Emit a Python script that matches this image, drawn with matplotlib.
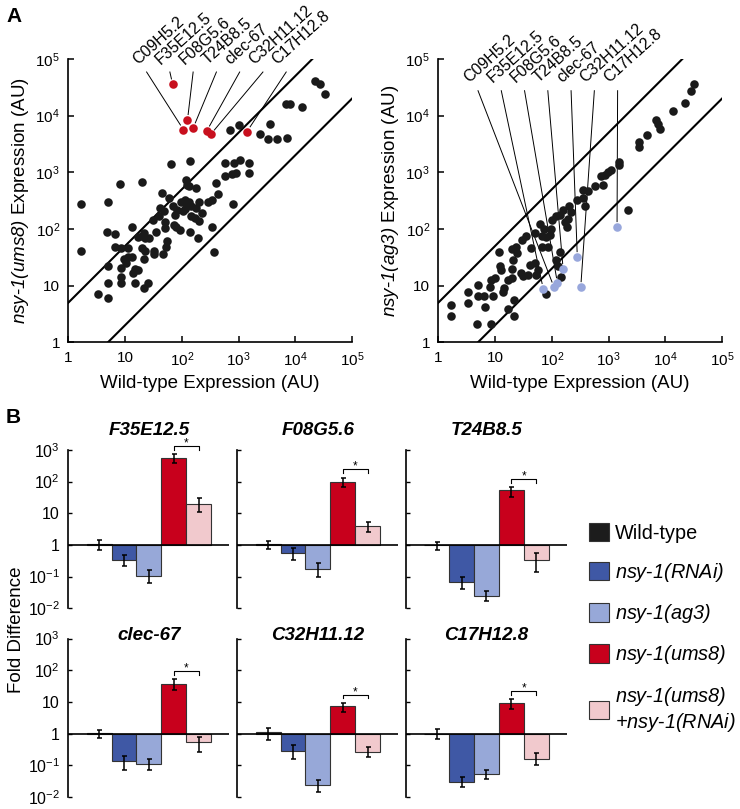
import numpy as np
import matplotlib
matplotlib.use('Agg')
import matplotlib.pyplot as plt
from matplotlib.patches import Patch

plt.rcParams['font.family'] = ['Liberation Sans', 'DejaVu Sans']
plt.rcParams['mathtext.fontset'] = 'custom'
plt.rcParams['mathtext.rm'] = 'Liberation Sans'
plt.rcParams['mathtext.sf'] = 'Liberation Sans:italic'
plt.rcParams['mathtext.bf'] = 'Liberation Sans:bold'

# ---------------- panel A data (log10 expression, AU) ----------------
genes = ['C09H5.2', 'F35E12.5', 'F08G5.6', 'T24B8.5', 'clec-67', 'C32H11.12', 'C17H12.8']

# nsy-1(ums8) vs wild-type, black points
ums8_wt = [0.22, 0.22, 0.70, 0.91, 1.30, 1.81, 2.14,
           0.69, 0.83, 0.82, 0.92, 1.06, 1.12,
           0.70, 0.92, 0.92, 0.70, 0.52, 0.70, 0.92,
           0.98, 1.05, 1.12, 1.02, 1.17, 1.22, 1.14, 1.18, 1.34, 1.40,
           1.34, 1.30, 1.35, 1.51, 1.51, 1.67, 1.73, 1.74,
           1.22, 1.30, 1.35, 1.43, 1.33, 1.55, 1.49, 1.59, 1.61, 1.65,
           1.70, 1.70, 1.69, 1.78, 1.84, 1.86, 1.88, 1.92, 1.96, 1.90,
           1.99, 2.05, 2.13, 2.09, 2.16, 2.07, 2.09, 2.13, 2.25,
           2.15, 2.06, 2.03, 2.25, 2.31, 2.17, 2.23, 2.31, 2.36, 2.28,
           2.46, 2.53, 2.64, 2.60, 2.53, 2.57, 2.91,
           2.76, 2.92, 3.02, 3.19, 2.76, 2.88, 2.95, 3.19,
           2.85, 3.00, 3.37, 3.55, 3.52, 3.67, 3.86, 3.83, 3.90, 4.12, 4.34, 4.44, 4.52]
ums8_mut = [2.44, 1.61, 2.47, 2.80, 2.83, 3.14, 3.20,
            1.94, 1.91, 1.69, 1.67, 1.67, 2.04,
            1.34, 1.31, 1.16, 1.04, 0.85, 0.79, 1.04,
            1.47, 1.51, 1.51, 1.40, 1.30, 1.28, 1.22, 1.04, 0.95, 1.04,
            1.47, 1.66, 1.61, 1.61, 1.55, 1.55, 1.69, 1.78,
            1.85, 1.88, 1.84, 1.84, 1.93, 1.95, 2.15, 2.22, 2.37, 2.64,
            2.13, 2.01, 2.31, 2.54, 2.40, 2.07, 2.25, 2.34, 1.98, 2.04,
            2.48, 2.51, 2.48, 2.40, 2.40, 2.87, 2.78, 2.76, 2.72,
            1.95, 2.35, 2.31, 2.37, 2.47, 2.22, 2.19, 2.14, 2.29, 1.84,
            2.47, 2.51, 2.61, 2.81, 2.03, 1.60, 2.44,
            3.16, 3.16, 3.22, 3.16, 2.93, 2.97, 2.99, 2.99,
            3.74, 3.83, 3.68, 3.85, 3.59, 3.59, 3.61, 4.20, 4.20, 4.15, 4.61, 4.55, 4.38]
# highlighted genes (same order as genes)
ums8_hit_wt = [2.03, 1.84, 2.10, 2.20, 2.44, 2.51, 3.15]
ums8_hit_mut = [3.75, 4.55, 3.92, 3.78, 3.73, 3.67, 3.72]

# nsy-1(ag3) vs wild-type, black points
ag3_wt = [0.22, 0.22, 0.53, 0.53, 0.70, 0.70, 0.69, 0.92, 0.82, 0.80, 0.91, 0.93, 1.00, 0.97,
          1.07, 1.08, 1.11, 1.14, 1.15, 1.23, 1.29, 1.23, 1.33, 1.33, 1.29, 1.32, 1.29, 1.37, 1.38,
          1.45, 1.49, 1.48, 1.54, 1.58, 1.61, 1.64, 1.70, 1.70, 1.73, 1.75,
          1.79, 1.82, 1.82, 1.86, 1.89, 1.89, 1.93, 1.96, 1.99, 2.01, 2.08, 2.08, 2.11, 2.14, 2.17,
          2.14, 2.19, 2.23, 2.26, 2.29, 2.31, 2.34,
          2.44, 2.55, 2.58, 2.55, 2.64, 2.77, 2.90, 2.87, 2.93, 2.99, 3.05, 3.19, 3.19, 3.34,
          3.53, 3.54, 3.67, 3.84, 3.87, 3.90, 4.13, 4.35, 4.45, 4.51]
ag3_mut = [0.66, 0.47, 0.88, 0.69, 1.01, 0.81, 0.32, 0.32, 0.63, 0.82, 0.98, 1.10, 1.14, 0.82,
           1.60, 1.34, 1.28, 0.89, 0.96, 1.10, 1.14, 0.58, 0.75, 0.47, 1.29, 1.45, 1.64, 1.69, 1.57,
           1.22, 1.17, 1.81, 1.87, 1.19, 1.37, 1.67, 1.93, 1.40, 1.19, 1.28,
           2.09, 1.88, 1.69, 2.00, 1.86, 0.85, 1.68, 1.90, 2.00, 2.16, 2.22, 1.45, 1.34, 1.60, 1.16,
           2.25, 2.34, 2.13, 2.04, 2.18, 2.40, 2.30,
           2.51, 2.54, 2.40, 2.69, 2.67, 2.75, 2.77, 2.93, 2.96, 3.01, 3.04, 3.13, 3.19, 2.33,
           3.53, 3.45, 3.66, 3.92, 3.85, 3.77, 4.09, 4.22, 4.43, 4.55]
ag3_hit_wt = [2.04, 1.85, 2.10, 2.20, 2.45, 2.51, 3.15]
ag3_hit_mut = [0.97, 0.94, 1.04, 1.29, 1.50, 0.97, 2.03]

decade_labels = ['1', '10', r'$\mathregular{10^2}$', r'$\mathregular{10^3}$',
                 r'$\mathregular{10^4}$', r'$\mathregular{10^5}$']

# ---------------- panel B data (log10 fold difference) ----------------
bar_genes = ['F35E12.5', 'F08G5.6', 'T24B8.5', 'clec-67', 'C32H11.12', 'C17H12.8']
strains = ['Wild-type', r'$\mathsf{nsy}$-$\mathsf{1(RNAi)}$', r'$\mathsf{nsy}$-$\mathsf{1(ag3)}$',
           r'$\mathsf{nsy}$-$\mathsf{1(ums8)}$',
           r'$\mathsf{nsy}$-$\mathsf{1(ums8)}$' + '\n' + r'$\mathsf{+nsy}$-$\mathsf{1(RNAi)}$']
fold = [[0.02, -0.47, -0.97, 2.74, 1.29],
        [0.02, -0.26, -0.77, 2.00, 0.60],
        [0.01, -1.16, -1.60, 1.72, -0.47],
        [0.03, -0.86, -0.95, 1.58, -0.27],
        [0.04, -0.55, -1.63, 0.86, -0.59],
        [0.00, -1.53, -1.28, 0.97, -0.80]]
fold_lo = [[-0.16, -0.68, -1.21, 2.60, 1.03],
           [-0.13, -0.49, -1.02, 1.84, 0.42],
           [-0.16, -1.40, -1.77, 1.53, -0.86],
           [-0.15, -1.16, -1.16, 1.39, -0.58],
           [-0.21, -0.79, -1.84, 0.68, -0.74],
           [-0.16, -1.68, -1.45, 0.76, -1.00]]
fold_hi = [[0.16, -0.32, -0.79, 2.86, 1.47],
           [0.14, -0.10, -0.58, 2.13, 0.72],
           [0.10, -1.00, -1.45, 1.82, -0.26],
           [0.11, -0.72, -0.81, 1.72, -0.10],
           [0.18, -0.37, -1.47, 0.97, -0.44],
           [0.15, -1.37, -1.16, 1.08, -0.63]]
fold_ticks = [1e-2, 1e-1, 1, 10, 1e2, 1e3]
fold_tick_labels = [r'$\mathregular{10^{-2}}$', r'$\mathregular{10^{-1}}$', '1', '10',
                    r'$\mathregular{10^2}$', r'$\mathregular{10^3}$']
bar_colors = ['#1c1c1c', '#3f58a5', '#97a8d8', '#c8001c', '#f1c9cd']

fig = plt.figure(figsize=(7.4, 8.09), dpi=100)


def scatter_panel(ax, bx, by, hx, hy, hcolor, ylabel, lab_x0, lab_y):
    ax.scatter(10 ** np.array(bx), 10 ** np.array(by), s=38, c='#1a1a1a', lw=0, zorder=2)
    ax.scatter(10 ** np.array(hx), 10 ** np.array(hy), s=38, c=hcolor, lw=0, zorder=3)
    ax.set_xscale('log')
    ax.set_yscale('log')
    ax.set_xlim(1, 1e5)
    ax.set_ylim(1, 1e5)
    # 5-fold boundaries
    xx = np.array([1, 2e4])
    ax.plot(xx, 5 * xx, color='k', lw=1.5, zorder=1)
    xx = np.array([5, 1e5])
    ax.plot(xx, xx / 5, color='k', lw=1.5, zorder=1)
    # gene labels with leader lines
    for i, g in enumerate(genes):
        tx, ty = lab_x0 + 0.41 * i, lab_y
        sx, sy = tx + 0.12, ty - 0.09
        d = np.hypot(sx - hx[i], sy - hy[i])
        ex, ey = hx[i] + 0.1 * (sx - hx[i]) / d, hy[i] + 0.1 * (sy - hy[i]) / d
        ax.plot(10 ** np.array([sx, ex]), 10 ** np.array([sy, ey]), color='k', lw=0.7,
                clip_on=False, zorder=1)
        ax.text(10 ** tx, 10 ** ty, g, rotation=42, rotation_mode='anchor',
                ha='left', va='bottom', fontsize=11.5)
    for s in ['top', 'right']:
        ax.spines[s].set_visible(False)
    for s in ['left', 'bottom']:
        ax.spines[s].set_linewidth(1.2)
    ax.set_xticks(10.0 ** np.arange(6), decade_labels)
    ax.set_yticks(10.0 ** np.arange(6), decade_labels)
    ax.minorticks_off()
    ax.tick_params(direction='in', length=4, width=1.1, labelsize=11, pad=6)
    ax.set_xlabel('Wild-type Expression (AU)', fontsize=13.5, labelpad=4)
    ax.set_ylabel(ylabel, fontsize=13.5, labelpad=3)


axA1 = fig.add_axes([0.0923, 0.5769, 0.3834, 0.3502])
scatter_panel(axA1, ums8_wt, ums8_mut, ums8_hit_wt, ums8_hit_mut, '#c8101e',
              r'$\mathsf{nsy}$-$\mathsf{1(ums8)}$ Expression (AU)', 1.26, 4.86)
axA2 = fig.add_axes([0.5923, 0.5769, 0.3834, 0.3502])
scatter_panel(axA2, ag3_wt, ag3_mut, ag3_hit_wt, ag3_hit_mut, '#98a7dc',
              r'$\mathsf{nsy}$-$\mathsf{1(ag3)}$ Expression (AU)', 0.58, 4.53)

# ---------------- panel B ----------------
lefts = [0.0923, 0.3207, 0.5486]
bottoms = [0.2481, 0.0150]
w, h = 0.2176, 0.1957
x = np.arange(5)
for k, g in enumerate(bar_genes):
    ax = fig.add_axes([lefts[k % 3], bottoms[k // 3], w, h])
    v = 10 ** np.array(fold[k])
    lo = 10 ** np.array(fold_lo[k])
    hi = 10 ** np.array(fold_hi[k])
    ax.bar(x, v - 1, bottom=1, width=1.0, color=bar_colors, edgecolor='#333333', lw=0.8, zorder=2)
    ax.errorbar(x, v, yerr=[v - lo, hi - v], fmt='none', ecolor='k', elinewidth=1.1,
                capsize=1.8, capthick=1.1, zorder=3)
    ax.set_yscale('log')
    ax.set_ylim(1e-2, 1e3)
    ax.set_xlim(-1.24, 5.24)
    ax.axhline(1, color='k', lw=1.2, zorder=4)
    # significance bracket
    yb = hi[3] * 10 ** 0.26
    ax.plot([3, 3, 4, 4], [yb / 10 ** 0.12, yb, yb, yb / 10 ** 0.12], color='k', lw=0.8,
            clip_on=False)
    ax.text(3.5, yb / 10 ** 0.02, '*', ha='center', va='baseline', fontsize=8.5)
    for s in ['top', 'right', 'bottom']:
        ax.spines[s].set_visible(False)
    ax.spines['left'].set_linewidth(1.2)
    ax.set_xticks([])
    ax.set_yticks(fold_ticks, fold_tick_labels if k % 3 == 0 else [''] * 6)
    ax.minorticks_off()
    ax.tick_params(axis='y', direction='in', length=3, width=1, labelsize=11.5, pad=6)
    ax.text(0.5, 1.125 if k < 3 else 1.02, g, transform=ax.transAxes, ha='center', va='center',
            fontsize=13.5, fontweight='bold', fontstyle='italic')

fig.text(0.022, 0.221, 'Fold Difference', rotation=90, ha='center', va='center', fontsize=13.5)

handles = [Patch(facecolor=c, edgecolor='#333333', lw=0.8) for c in bar_colors]
fig.legend(handles, strains, loc='upper left', bbox_to_anchor=(0.796, 0.354), frameon=False,
           fontsize=14.3, handlelength=1.0, handleheight=1.05, handletextpad=0.3,
           labelspacing=0.92, borderpad=0, borderaxespad=0)

fig.text(0.009, 0.991, 'A', fontsize=15, fontweight='bold', va='top')
fig.text(0.007, 0.4957, 'B', fontsize=15, fontweight='bold', va='top')

fig.savefig('out.png', dpi=100)
